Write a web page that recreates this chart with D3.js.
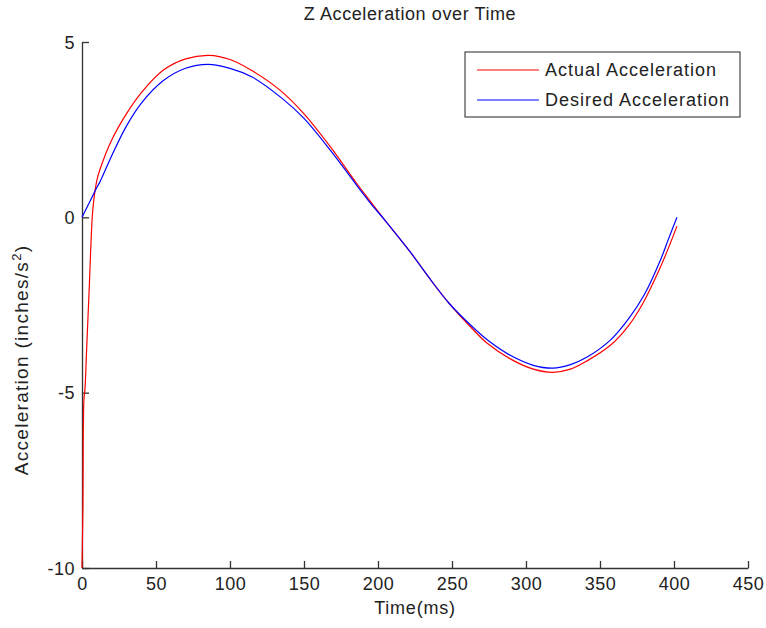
<!DOCTYPE html>
<html>
<head>
<meta charset="utf-8">
<script src="https://cdn.jsdelivr.net/npm/d3@7"></script>
<style>
body{margin:0;background:#fff;}
text{font-family:"Liberation Sans",Arial,sans-serif;fill:#222;}
</style>
</head>
<body>
<div id="chart"></div>
<script>
// time values (ms) for each series
var desiredT=[0,5,10,12,20,30,40,55,70,85,100,115,135,150,168,185,195,205,222,235,248,262,274,290,305,318,330,341,357,370,380,391,396,402]
var desiredV=[0,0.42,0.85,1.0,1.75,2.6,3.25,3.9,4.25,4.36,4.25,4.0,3.4,2.82,1.9,0.95,0.4,-0.1,-1.0,-1.75,-2.45,-3.05,-3.5,-3.95,-4.22,-4.3,-4.2,-3.99,-3.5,-2.85,-2.2,-1.2,-0.65,0]

var actualT=[0,0.6,1.3,2,3,4,5,6,7,8,10,12,20,30,40,55,70,86,100,115,134,150,168,185,195,205,222,235,248,262,274,290,305,318,330,341,357,370,379,391,396,402]
var actualV=[-10,-8.3,-5.2,-4.9,-3.9,-2.9,-1.9,-0.8,0.05,0.5,1.05,1.35,2.2,2.95,3.55,4.2,4.52,4.62,4.5,4.18,3.62,2.95,2.0,1.0,0.45,-0.1,-1.0,-1.75,-2.45,-3.1,-3.6,-4.05,-4.33,-4.42,-4.33,-4.1,-3.65,-3.05,-2.45,-1.4,-0.9,-0.25]

var xTicks=[0,50,100,150,200,250,300,350,400,450]
var yTicks=[-10,-5,0,5]
var seriesNames=["Actual Acceleration","Desired Acceleration"]
var seriesColors=["#ff0000","#0000ff"]

var zip=function(t,v){
  var arr=[]
  for(var i=0;i<t.length;i++){
    arr.push({t:t[i],v:v[i]})
  }
  return arr
}

var drawChart=function(){
  var screen={width:766,height:628}
  var margin={top:42,right:18,bottom:60,left:82}
  var w=screen.width-margin.left-margin.right
  var h=screen.height-margin.top-margin.bottom

  var svg=d3.select("#chart").append("svg")
      .attr("width",screen.width)
      .attr("height",screen.height)

  var x=d3.scaleLinear().domain([0,450]).range([0,w])
  var y=d3.scaleLinear().domain([-10,5]).range([h,0])

  var g=svg.append("g").attr("transform","translate("+margin.left+","+margin.top+")")

  // axes, ticks inward, plain hyphen for minus
  var fmt=function(d){return String(d)}
  var xAxis=d3.axisBottom(x).tickValues(xTicks).tickFormat(fmt).tickSizeInner(-7).tickSizeOuter(0).tickPadding(9)
  var yAxis=d3.axisLeft(y).tickValues(yTicks).tickFormat(fmt).tickSizeInner(-7).tickSizeOuter(0).tickPadding(7)

  var gx=g.append("g").attr("transform","translate(0,"+h+")").call(xAxis)
  var gy=g.append("g").call(yAxis)
  ;[gx,gy].forEach(function(a){
    a.selectAll("path,line").attr("stroke","#333").attr("stroke-width",1.3)
    a.selectAll("text").style("font-size","18px").style("letter-spacing","0.5px").attr("fill","#222")
  })
  gx.selectAll("text").attr("dy","0.71em")
  gy.selectAll("text").attr("dy","0.35em")

  var line=d3.line()
      .x(function(d){return x(d.t)})
      .y(function(d){return y(d.v)})
      .curve(d3.curveCatmullRom.alpha(0.5))

  var data=[zip(actualT,actualV),zip(desiredT,desiredV)]
  g.selectAll(".series")
      .data(data)
      .enter().append("path")
      .attr("class","series")
      .attr("d",line)
      .attr("fill","none")
      .attr("stroke",function(d,i){return seriesColors[i]})
      .attr("stroke-width",1.2)

  // title and labels
  svg.append("text")
      .attr("x",410).attr("y",20)
      .attr("text-anchor","middle")
      .style("font-size","18px")
      .style("letter-spacing","0.6px")
      .text("Z Acceleration over Time")

  svg.append("text")
      .attr("x",margin.left+w/2).attr("y",614)
      .attr("text-anchor","middle")
      .style("font-size","18px")
      .style("letter-spacing","0.8px")
      .text("Time(ms)")

  var yl=svg.append("text")
      .attr("transform","translate(28,360) rotate(-90)")
      .attr("text-anchor","middle")
      .style("font-size","19px")
      .style("letter-spacing","1.3px")
  yl.append("tspan").text("Acceleration (inches/s")
  yl.append("tspan").attr("dy",-7).style("font-size","13px").text("2")
  yl.append("tspan").attr("dy",7).text(")")

  // legend
  var lg=svg.append("g").attr("transform","translate(465,52)")
  lg.append("rect")
      .attr("width",275).attr("height",65)
      .attr("fill","#fff").attr("stroke","#222").attr("stroke-width",1)
  seriesNames.forEach(function(n,i){
    var yy=18+i*30
    lg.append("line")
        .attr("x1",12).attr("x2",74)
        .attr("y1",yy).attr("y2",yy)
        .attr("stroke",seriesColors[i]).attr("stroke-width",1.2)
    lg.append("text")
        .attr("x",80).attr("y",yy)
        .attr("dy","0.35em")
        .style("font-size","18px")
        .style("letter-spacing","1px")
        .text(n)
  })
}

drawChart()
</script>
</body>
</html>
